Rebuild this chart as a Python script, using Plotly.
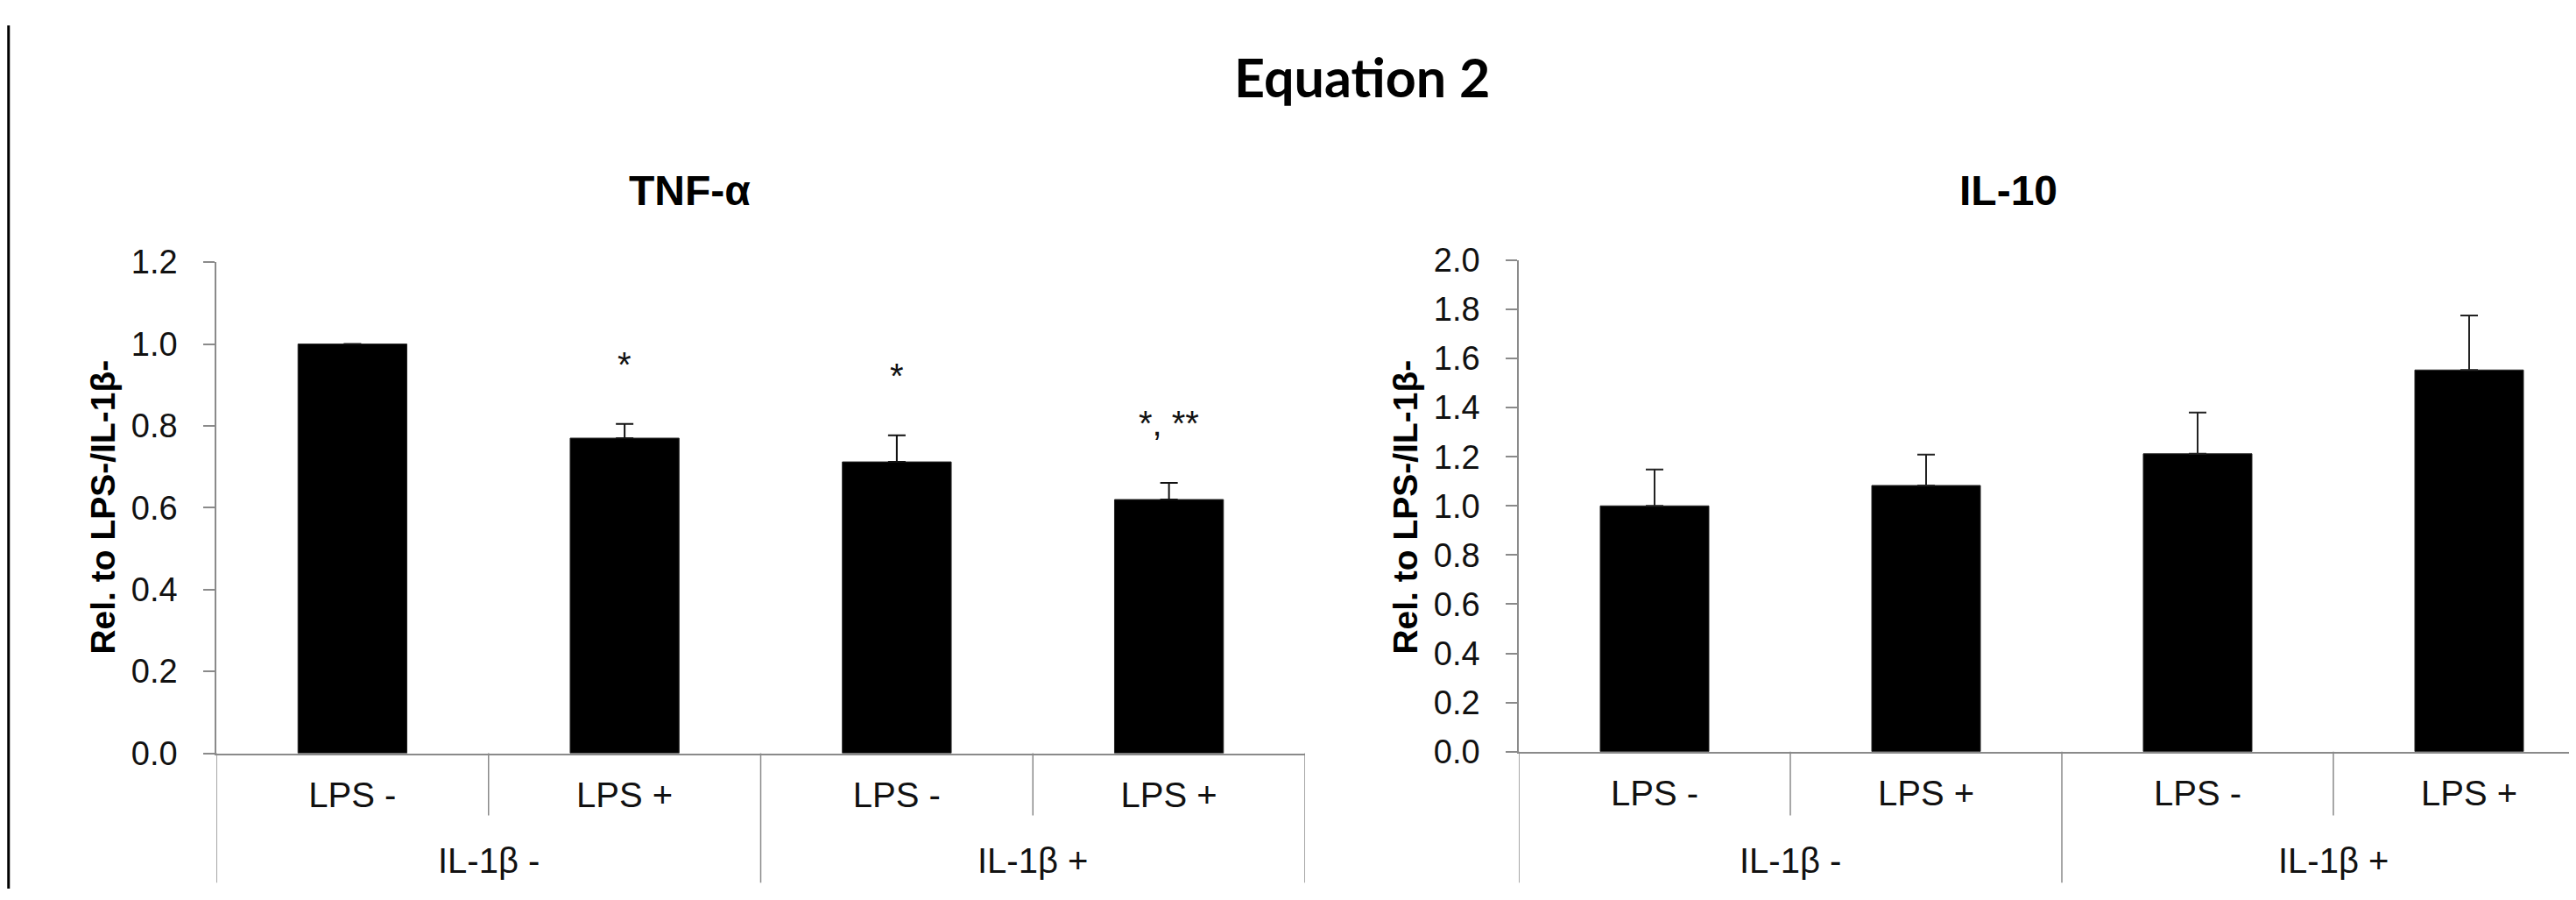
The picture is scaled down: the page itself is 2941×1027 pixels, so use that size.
import plotly.graph_objects as go

# ---------------- data ----------------
inner_labels = ["LPS -", "LPS +", "LPS -", "LPS +"]
group_labels = ["IL-1β -", "IL-1β -", "IL-1β +", "IL-1β +"]

tnf_values = [1.0, 0.77, 0.712, 0.62]
tnf_errors = [0.0, 0.035, 0.065, 0.041]
tnf_signif = ["", "*", "*", "*, **"]

il10_values = [1.0, 1.083, 1.212, 1.553]
il10_errors = [0.148, 0.126, 0.168, 0.222]

tnf_ticks = [0.0, 0.2, 0.4, 0.6, 0.8, 1.0, 1.2]
il10_ticks = [0.0, 0.2, 0.4, 0.6, 0.8, 1.0, 1.2, 1.4, 1.6, 1.8, 2.0]

main_title = "Equation 2"
panel_titles = ["TNF-α", "IL-10"]
y_title = "Rel. to LPS-/IL-1β-"

# ---------------- layout constants ----------------
W, H = 2941, 1027
FONT = "Liberation Sans, Arial, sans-serif"
AXIS_GRAY = "#8a8a8a"

def px_x(p):
    return p / W

def px_y(p):
    return 1 - p / H

xpos = list(range(len(inner_labels)))

fig = go.Figure()

fig.add_trace(go.Bar(
    x=xpos, y=tnf_values, width=0.4,
    marker=dict(color="black", line=dict(color="#222", width=1)),
    error_y=dict(type="data", symmetric=False, array=tnf_errors,
                 arrayminus=[0] * len(tnf_errors), color="#111",
                 thickness=2, width=10),
    xaxis="x", yaxis="y", showlegend=False, hoverinfo="skip"))

fig.add_trace(go.Bar(
    x=xpos, y=il10_values, width=0.4,
    marker=dict(color="black", line=dict(color="#222", width=1)),
    error_y=dict(type="data", symmetric=False, array=il10_errors,
                 arrayminus=[0] * len(il10_errors), color="#222",
                 thickness=2, width=10),
    xaxis="x2", yaxis="y2", showlegend=False, hoverinfo="skip"))

cat_px = 310.0
right_span = (W - 1726) / cat_px

xcommon = dict(tickmode="array", tickvals=xpos, ticktext=inner_labels,
               showline=True, linecolor=AXIS_GRAY, linewidth=1.5,
               ticks="", showgrid=False, zeroline=False,
               tickfont=dict(family=FONT, size=40, color="#111"),
               ticklabelstandoff=12, fixedrange=True)
ycommon = dict(tickformat=".1f", ticks="outside", ticklen=13, tickwidth=1.5,
               tickcolor=AXIS_GRAY, showline=True, linecolor=AXIS_GRAY,
               linewidth=1.5, showgrid=False, zeroline=False,
               tickfont=dict(family=FONT, size=38, color="#111"),
               ticklabelstandoff=22, fixedrange=True)

fig.update_layout(
    width=W, height=H,
    margin=dict(l=0, r=0, t=0, b=0),
    paper_bgcolor="white", plot_bgcolor="rgba(0,0,0,0)",
    bargap=0.6,
    xaxis=dict(domain=[px_x(239), px_x(1482)], range=[-0.5, len(xpos) - 0.5],
               anchor="y", **xcommon),
    yaxis=dict(domain=[px_y(866), px_y(281.7)], range=[0, 1.2],
               tickvals=tnf_ticks, anchor="x", **ycommon),
    xaxis2=dict(domain=[px_x(1726), 1.0], range=[-0.5, -0.5 + right_span],
                anchor="y2", **xcommon),
    yaxis2=dict(domain=[px_y(864), px_y(279.3)], range=[0, 2.0],
                tickvals=il10_ticks, anchor="x2", **ycommon),
)

shapes = []
# left border of the figure
shapes.append(dict(type="line", xref="paper", yref="paper", x0=0.0006, x1=0.0006,
                   y0=0, y1=1, line=dict(color="black", width=3)))

def add_separators(xref, y_axis_bottom_px):
    n = len(inner_labels)
    for k in range(n + 1):
        xb = k - 0.5
        is_group_edge = (k == 0 or k == n or group_labels[k - 1] != group_labels[k])
        bottom = 1020 if is_group_edge else 940
        shapes.append(dict(type="line", xref=xref, yref="paper", x0=xb, x1=xb,
                           y0=px_y(y_axis_bottom_px), y1=px_y(bottom),
                           line=dict(color=AXIS_GRAY, width=1.5)))

add_separators("x", 866)
add_separators("x2", 864)
fig.update_layout(shapes=shapes)

annotations = []
annotations.append(dict(text=main_title, xref="paper", yref="paper",
                        x=px_x(1547), y=px_y(61), xanchor="center", yanchor="middle",
                        showarrow=False,
                        font=dict(family="Lato, Open Sans, sans-serif", size=61,
                                  color="black", weight="bold")))
for title, cx in zip(panel_titles, [779, 2285]):
    annotations.append(dict(text=title, xref="paper", yref="paper",
                            x=px_x(cx), y=px_y(197), xanchor="center", yanchor="middle",
                            showarrow=False,
                            font=dict(family=FONT, size=48, color="black", weight="bold")))
for cx in [110, 1597]:
    annotations.append(dict(text=y_title, xref="paper", yref="paper",
                            x=px_x(cx), y=px_y(573), xanchor="center", yanchor="middle",
                            textangle=-90, showarrow=False,
                            font=dict(family=FONT, size=39, color="black", weight="bold")))

# group (outer) labels
for xref in ["x", "x2"]:
    seen = []
    for g in group_labels:
        if g not in seen:
            seen.append(g)
    for g in seen:
        idx = [i for i, lab in enumerate(group_labels) if lab == g]
        cx = sum(idx) / len(idx)
        annotations.append(dict(text=g, xref=xref, yref="paper", x=cx, y=px_y(994),
                                xanchor="center", yanchor="middle", showarrow=False,
                                font=dict(family=FONT, size=40, color="#111")))

# significance marks
for i, (lab, v, e) in enumerate(zip(tnf_signif, tnf_values, tnf_errors)):
    if lab:
        annotations.append(dict(text=lab, xref="x", yref="y", x=i, y=v + e,
                                xanchor="center", yanchor="bottom", yshift=44,
                                showarrow=False,
                                font=dict(family=FONT, size=40, color="#111")))

fig.update_layout(annotations=annotations)

fig.write_html("out.html")
